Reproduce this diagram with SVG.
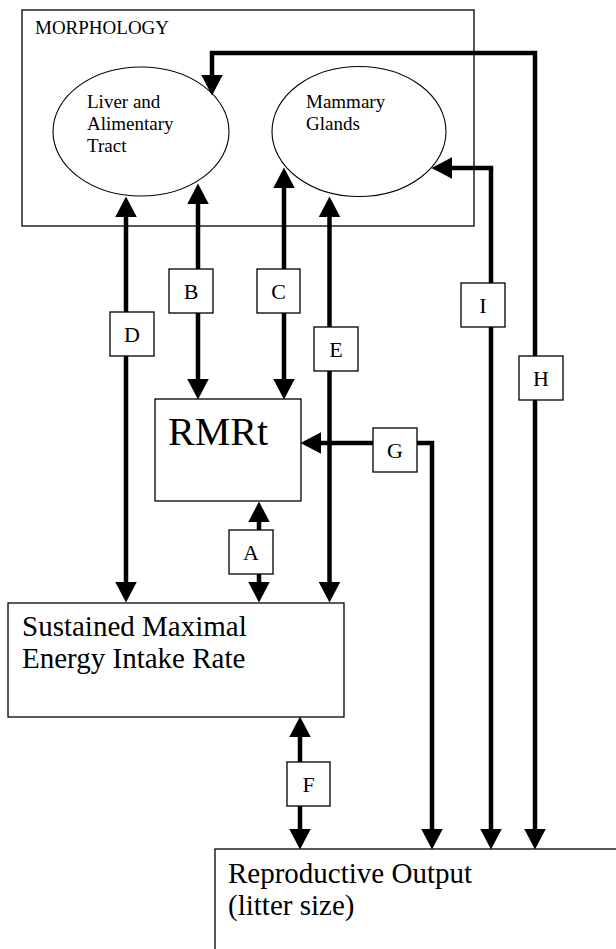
<svg xmlns="http://www.w3.org/2000/svg" width="616" height="949" viewBox="0 0 616 949">
<style>
  .box{fill:#fff;stroke:#000;stroke-width:1.3}
  .ell{fill:#fff;stroke:#000;stroke-width:1.1}
  .conn{fill:none;stroke:#000;stroke-width:4.5;stroke-linejoin:miter;marker-start:url(#ah);marker-end:url(#ah)}
  .t{font-family:"Liberation Serif","Times New Roman",serif;fill:#000}
  .s{font-size:19px}
  .m{font-size:29px}
  .lab{font-size:22px;text-anchor:middle}
</style>
<defs>
  <marker id="ah" markerUnits="userSpaceOnUse" markerWidth="22" markerHeight="22" refX="10" refY="10.5" orient="auto-start-reverse" viewBox="0 0 21 21">
    <path d="M0,0 L20,10.5 L0,21 Z" fill="#000"/>
  </marker>
</defs>
<rect width="616" height="949" fill="#fff"/>

<g id="morphology">
  <rect class="box" x="22" y="10" width="452" height="216"/>
  <text class="t s" x="35" y="34">MORPHOLOGY</text>
</g>
<g id="liver">
  <ellipse class="ell" cx="141" cy="131.5" rx="88" ry="64.5"/>
  <text class="t s" x="87" y="108">Liver and</text>
  <text class="t s" x="87" y="130">Alimentary</text>
  <text class="t s" x="87" y="152">Tract</text>
</g>
<g id="mammary">
  <ellipse class="ell" cx="359" cy="131.5" rx="87" ry="65"/>
  <text class="t s" x="306" y="108">Mammary</text>
  <text class="t s" x="306" y="130">Glands</text>
</g>
<g id="rmrt">
  <rect class="box" x="155" y="399" width="146" height="102"/>
  <text class="t" x="168" y="445" font-size="40">RMRt</text>
</g>
<g id="smeir">
  <rect class="box" x="8" y="603" width="336" height="114"/>
  <text class="t m" x="22" y="636">Sustained Maximal</text>
  <text class="t m" x="22" y="668">Energy Intake Rate</text>
</g>
<g id="reproductive">
  <rect class="box" x="215" y="849" width="420" height="120"/>
  <text class="t m" x="228" y="883">Reproductive Output</text>
  <text class="t m" x="228" y="915">(litter size)</text>
</g>

<g id="connectors">
  <path class="conn" d="M126,207 L126,592"/>
  <path class="conn" d="M198,194 L198,389"/>
  <path class="conn" d="M284,178 L284,389"/>
  <path class="conn" d="M329.5,207 L329.5,592"/>
  <path class="conn" d="M259,512 L259,592"/>
  <path class="conn" d="M300,727 L300,839"/>
  <path class="conn" d="M311,443 L432,443 L432,839"/>
  <path class="conn" d="M442,168 L491,168 L491,839"/>
  <path class="conn" d="M212,85 L212,53 L535,53 L535,839"/>
</g>

<g id="label-D"><rect class="box" x="110" y="312" width="44" height="44"/><text class="t lab" x="132" y="342">D</text></g>
<g id="label-B"><rect class="box" x="169" y="269" width="44" height="44"/><text class="t lab" x="191" y="299">B</text></g>
<g id="label-C"><rect class="box" x="257" y="269" width="43" height="44"/><text class="t lab" x="278.5" y="299">C</text></g>
<g id="label-E"><rect class="box" x="314" y="327" width="44" height="44"/><text class="t lab" x="336" y="357">E</text></g>
<g id="label-A"><rect class="box" x="229" y="530" width="44" height="44"/><text class="t lab" x="251" y="560">A</text></g>
<g id="label-F"><rect class="box" x="287" y="762" width="43" height="44"/><text class="t lab" x="308.5" y="792">F</text></g>
<g id="label-G"><rect class="box" x="373" y="428" width="44" height="44"/><text class="t lab" x="395" y="458">G</text></g>
<g id="label-I"><rect class="box" x="461" y="283" width="44" height="44"/><text class="t lab" x="483" y="313">I</text></g>
<g id="label-H"><rect class="box" x="519" y="356" width="44" height="44"/><text class="t lab" x="541" y="386">H</text></g>
</svg>
